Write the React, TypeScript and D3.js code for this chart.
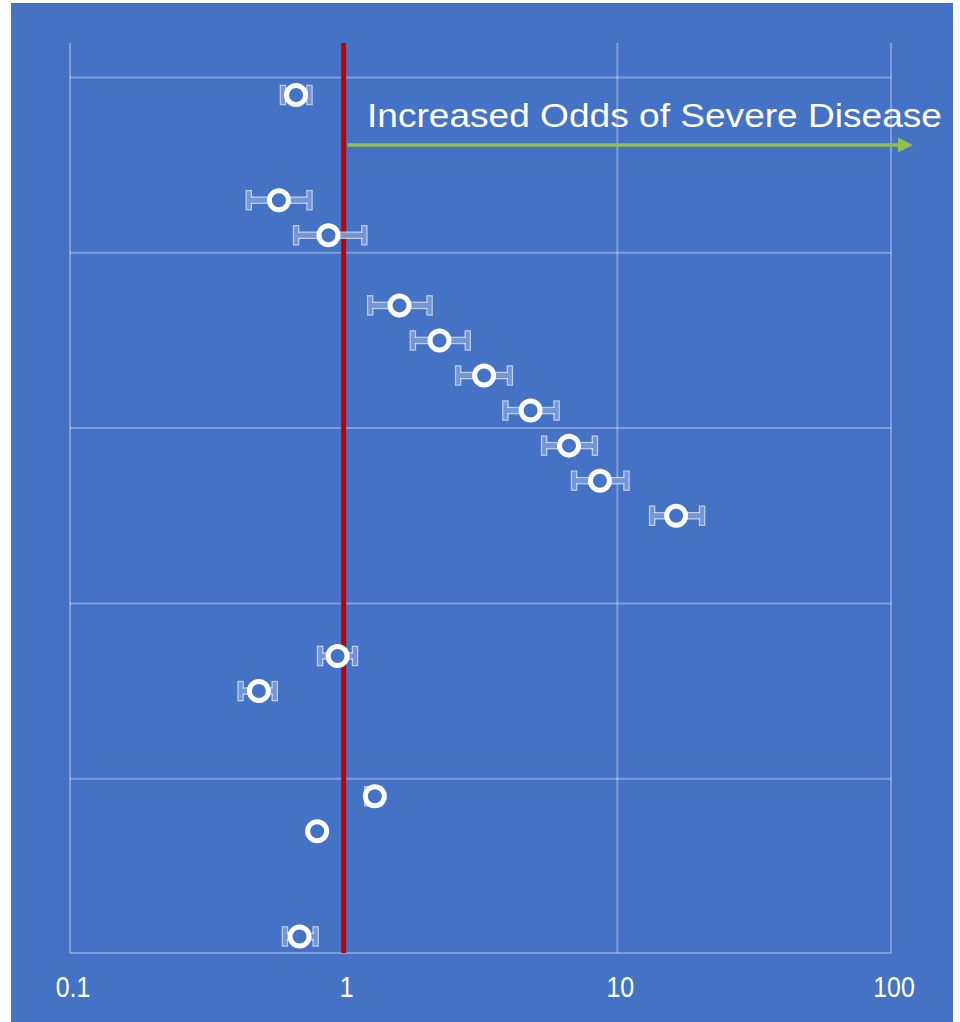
import React from 'react';
import * as d3 from 'd3';

const width = 960;
const height = 1022;
const bg = '#4472C4';

// 25 row slots, five groups of five
const slotCount = 25;
const slots = [0, 3, 4, 6, 7, 8, 9, 10, 11, 12, 16, 17, 20, 21, 24];
const oddsRatio = [0.67, 0.58, 0.88, 1.6, 2.24, 3.26, 4.82, 6.66, 8.64, 16.4, 0.95, 0.49, 1.3, 0.8, 0.69];
const ciLow = [0.6, 0.45, 0.67, 1.25, 1.79, 2.62, 3.9, 5.4, 6.95, 13.4, 0.82, 0.42, 1.22, 0.78, 0.61];
const ciHigh = [0.75, 0.75, 1.19, 2.06, 2.84, 4.05, 6.0, 8.28, 10.8, 20.4, 1.1, 0.56, 1.35, 0.82, 0.79];
const tickValues = [0.1, 1, 10, 100];
const tickLabels = ['0.1', '1', '10', '100'];
const annotation = 'Increased Odds of Severe Disease';

const x = d3.scaleLog().domain([0.1, 100]).range([70, 891]);
const y = d3
  .scaleBand<number>()
  .domain(d3.range(slotCount))
  .range([77.5, 954]);

const groupLines = d3.range(0, slotCount + 1, 5).map(i => (i < slotCount ? y(i)! : y.range()[1] - 1));

type Pt = { cx: number; cy: number; lo: number; hi: number };

const WhiskerRects = ({ p, ...rest }: { p: Pt } & React.SVGProps<SVGGElement>) => (
  <g {...rest}>
    <rect x={p.lo - 2} y={p.cy - 9} width={4} height={18} />
    <rect x={p.lo} y={p.cy - 2.5} width={Math.max(0, p.hi - p.lo)} height={5} />
    <rect x={p.hi - 2} y={p.cy - 9} width={4} height={18} />
  </g>
);

const App = () => {
  const points: Pt[] = slots.map((s, i) => ({
    cy: y(s)! + y.bandwidth() / 2,
    cx: x(oddsRatio[i]),
    lo: x(ciLow[i]),
    hi: x(ciHigh[i]),
  }));

  return (
    <svg width={width} height={height} style={{ position: 'absolute', left: 0, top: 0 }}>
      <rect x={11} y={3} width={942} height={height - 3} fill={bg} />

      {/* grid */}
      <g stroke="rgba(255,255,255,0.32)" strokeWidth={2}>
        {groupLines.map((gy, i) => (
          <line key={'h' + i} x1={x(0.1)} x2={x(100)} y1={gy} y2={gy} />
        ))}
        {tickValues.map((t, i) => (
          <line key={'v' + i} x1={x(t)} x2={x(t)} y1={43} y2={953} />
        ))}
      </g>

      {/* reference line at OR = 1 */}
      <line x1={x(1)} x2={x(1)} y1={43} y2={953} stroke="#C00000" strokeWidth={5} />

      {/* annotation */}
      <text
        x={367}
        y={127}
        fill="#fff"
        fontFamily="'Liberation Sans', Arial, sans-serif"
        fontSize={34}
        textLength={575}
        lengthAdjust="spacingAndGlyphs"
      >
        {annotation}
      </text>
      <line x1={x(1) + 4} x2={899} y1={145} y2={145} stroke="#92C04C" strokeWidth={3.5} />
      <path d="M898,137.5L913,145L898,152.5Z" fill="#92C04C" />

      {/* whiskers */}
      {points.map((p, i) => (
        <g key={'w' + i}>
          <WhiskerRects p={p} fill="none" stroke="rgba(255,255,255,0.65)" strokeWidth={2.5} />
          <WhiskerRects p={p} fill="#7396D6" />
        </g>
      ))}

      {/* point estimates */}
      {points.map((p, i) => (
        <circle key={'c' + i} cx={p.cx} cy={p.cy} r={9.5} fill={bg} stroke="#fff" strokeWidth={5} />
      ))}

      {/* x axis labels */}
      {tickValues.map((t, i) => (
        <text
          key={'t' + i}
          transform={`translate(${x(t) + 3},997) scale(0.86,1)`}
          textAnchor="middle"
          fill="#fff"
          fontFamily="'Liberation Sans', Arial, sans-serif"
          fontSize={29}
        >
          {tickLabels[i]}
        </text>
      ))}
    </svg>
  );
};

export default App;
